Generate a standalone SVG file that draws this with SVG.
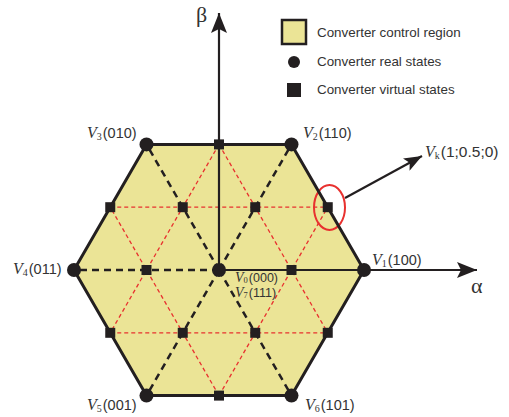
<svg xmlns="http://www.w3.org/2000/svg" width="509" height="417" viewBox="0 0 509 417">
<defs>
<style>
.hexfill{fill:#ebe496;stroke:none}
.hexedge{fill:none;stroke:#231f20;stroke-width:3;stroke-linejoin:miter}
.red{stroke:#e8312f;stroke-width:1.3;stroke-dasharray:4 3;fill:none}
.bd{stroke:#231f20;stroke-width:2.5;stroke-dasharray:7 5;fill:none}
.axis{stroke:#231f20;stroke-width:2.2;fill:none}
.real{fill:#231f20}
.virt{fill:#231f20}
.vi{font-family:"Liberation Serif",serif;font-style:italic;font-size:16px;fill:#333}
.sub{font-family:"Liberation Serif",serif;font-size:10px;fill:#333}
.sn{font-family:"Liberation Sans",Arial,sans-serif;font-size:14.5px;fill:#333}
.sm{font-family:"Liberation Sans",Arial,sans-serif;font-size:12.5px;fill:#333}
.smi{font-family:"Liberation Serif",serif;font-style:italic;font-size:14px;fill:#333}
.leg{font-family:"Liberation Sans",Arial,sans-serif;font-size:13.4px;fill:#333}
.greek{font-family:"Liberation Serif",serif;font-size:22px;fill:#333}
</style>
<marker id="ah" viewBox="0 0 20 18" refX="20" refY="9" markerWidth="20" markerHeight="18" markerUnits="userSpaceOnUse" orient="auto">
<path d="M0,1 L20,9 L0,17 L4,9 z" fill="#231f20"/>
</marker>
<marker id="ah2" viewBox="0 0 18 14" refX="18" refY="7" markerWidth="18" markerHeight="14" markerUnits="userSpaceOnUse" orient="auto">
<path d="M0,0 L18,7 L0,14 L4,7 z" fill="#231f20"/>
</marker>
</defs>

<g id="region">
<polygon class="hexfill" points="364,270 291.5,144.4 146.5,144.4 74,270 146.5,395.6 291.5,395.6"/>
</g>

<g id="connectors">
<line class="red" x1="110.25" y1="207.2" x2="327.75" y2="207.2"/>
<line class="red" x1="110.25" y1="332.8" x2="327.75" y2="332.8"/>
<line class="red" x1="219" y1="144.4" x2="110.25" y2="332.8"/>
<line class="red" x1="219" y1="144.4" x2="327.75" y2="332.8"/>
<line class="red" x1="219" y1="395.6" x2="110.25" y2="207.2"/>
<line class="red" x1="219" y1="395.6" x2="327.75" y2="207.2"/>
<line class="bd" x1="219" y1="270" x2="74" y2="270"/>
<line class="bd" x1="219" y1="270" x2="146.5" y2="144.4"/>
<line class="bd" x1="219" y1="270" x2="291.5" y2="144.4"/>
<line class="bd" x1="219" y1="270" x2="146.5" y2="395.6"/>
<line class="bd" x1="219" y1="270" x2="291.5" y2="395.6"/>
<line class="axis" x1="219" y1="270" x2="477" y2="270" marker-end="url(#ah)"/>
<line class="axis" x1="219" y1="270" x2="219" y2="13" marker-end="url(#ah)"/>
<line class="axis" x1="345" y1="198" x2="422" y2="156" marker-end="url(#ah2)"/>
<ellipse cx="329.5" cy="207.5" rx="15.5" ry="22.5" fill="none" stroke="#e8312f" stroke-width="2"/>
</g>

<g id="hexagon-edge">
<polygon class="hexedge" points="364,270 291.5,144.4 146.5,144.4 74,270 146.5,395.6 291.5,395.6"/>
</g>

<g id="real-states">
<circle class="real" cx="364" cy="270" r="7"/>
<circle class="real" cx="291.5" cy="144.4" r="7"/>
<circle class="real" cx="146.5" cy="144.4" r="7"/>
<circle class="real" cx="74" cy="270" r="7"/>
<circle class="real" cx="146.5" cy="395.6" r="7"/>
<circle class="real" cx="291.5" cy="395.6" r="7"/>
<circle class="real" cx="219" cy="270" r="7"/>
</g>

<g id="virtual-states">
<rect class="virt" x="214" y="139.4" width="10" height="10"/>
<rect class="virt" x="322.75" y="202.2" width="10" height="10"/>
<rect class="virt" x="322.75" y="327.8" width="10" height="10"/>
<rect class="virt" x="214" y="390.6" width="10" height="10"/>
<rect class="virt" x="105.25" y="327.8" width="10" height="10"/>
<rect class="virt" x="105.25" y="202.2" width="10" height="10"/>
<rect class="virt" x="286.5" y="265" width="10" height="10"/>
<rect class="virt" x="250.25" y="202.2" width="10" height="10"/>
<rect class="virt" x="177.75" y="202.2" width="10" height="10"/>
<rect class="virt" x="141.5" y="265" width="10" height="10"/>
<rect class="virt" x="177.75" y="327.8" width="10" height="10"/>
<rect class="virt" x="250.25" y="327.8" width="10" height="10"/>
</g>

<g id="labels">
<text x="87" y="138"><tspan class="vi">V</tspan><tspan class="sub" dy="2">3</tspan><tspan class="sn" dy="-2" dx="1">(010)</tspan></text>
<text x="303" y="138"><tspan class="vi">V</tspan><tspan class="sub" dy="2">2</tspan><tspan class="sn" dy="-2" dx="1">(110)</tspan></text>
<text x="13" y="274"><tspan class="vi">V</tspan><tspan class="sub" dy="2">4</tspan><tspan class="sn" dy="-2" dx="1">(011)</tspan></text>
<text x="372" y="265"><tspan class="vi">V</tspan><tspan class="sub" dy="2">1</tspan><tspan class="sn" dy="-2" dx="1">(100)</tspan></text>
<text x="87" y="410"><tspan class="vi">V</tspan><tspan class="sub" dy="2">5</tspan><tspan class="sn" dy="-2" dx="1">(001)</tspan></text>
<text x="305" y="410"><tspan class="vi">V</tspan><tspan class="sub" dy="2">6</tspan><tspan class="sn" dy="-2" dx="1">(101)</tspan></text>
<text x="425" y="157"><tspan class="vi">V</tspan><tspan class="sub" dy="2">k</tspan><tspan class="sn" dy="-2" dx="1" style="font-size:15.5px">(1;0.5;0)</tspan></text>
<text x="235" y="282"><tspan class="smi">V</tspan><tspan class="sub" dy="1" style="font-size:8.5px">0</tspan><tspan class="sm" dy="-1" dx="1">(000)</tspan></text>
<text x="235" y="297"><tspan class="smi">V</tspan><tspan class="sub" dy="1" style="font-size:8.5px">7</tspan><tspan class="sm" dy="-1" dx="1">(111)</tspan></text>
<text class="greek" x="471" y="293">α</text>
<text class="greek" x="196" y="22">β</text>
</g>

<g id="legend">
<rect x="282" y="20" width="24" height="24" fill="#ebe496" stroke="#231f20" stroke-width="2.5"/>
<text class="leg" x="317" y="37">Converter control region</text>
<circle class="real" cx="294" cy="62" r="6"/>
<text class="leg" x="317" y="66">Converter real states</text>
<rect class="virt" x="287" y="83" width="14" height="14"/>
<text class="leg" x="317" y="94">Converter virtual states</text>
</g>
</svg>
